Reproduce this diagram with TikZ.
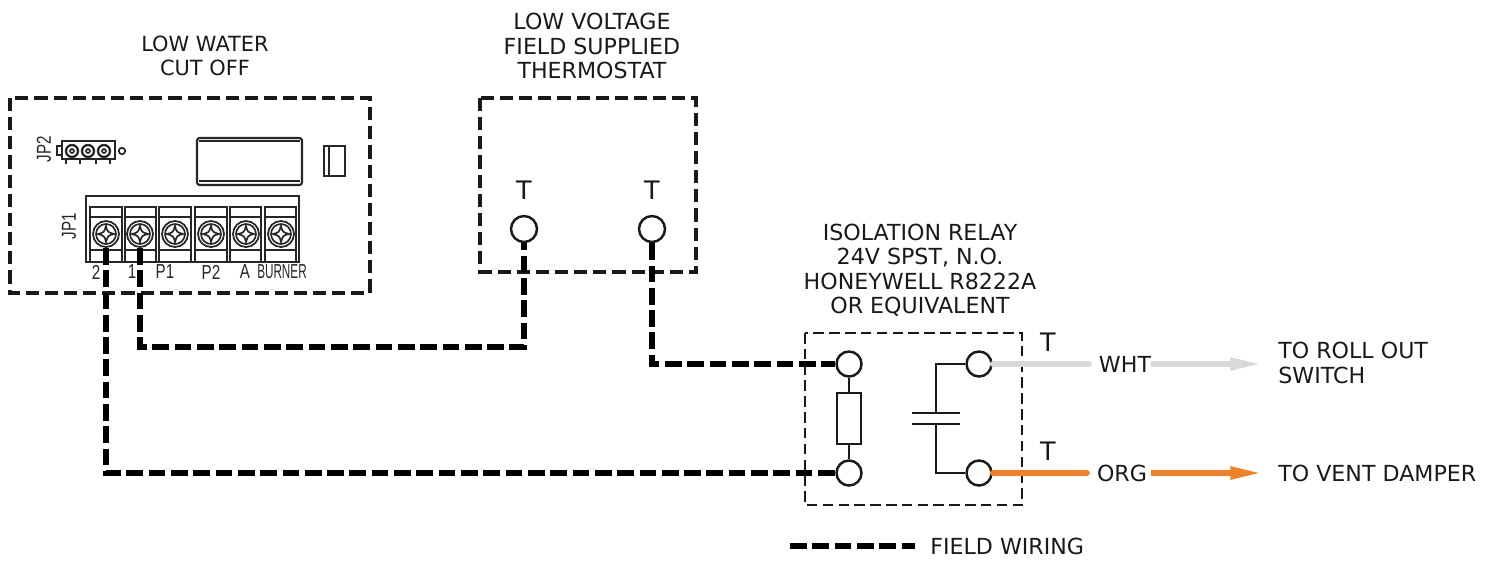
\documentclass[tikz,border=0pt]{standalone}
\usepackage{fontspec}
\setmainfont{DejaVu Sans}
\newfontfamily\pinfont{Liberation Sans}
\usetikzlibrary{arrows.meta}
\definecolor{wireorange}{RGB}{238,130,38}
\definecolor{wiregray}{RGB}{217,217,217}
\tikzset{
    boxline/.style={draw=black!90, line width=1.9pt, dash pattern=on 7.5pt off 3.4pt},
    fieldwire/.style={draw=black, line width=3pt, dash pattern=on 9.5pt off 3.2pt},
    term/.style={circle, draw=black!90, fill=white, line width=1.4pt, minimum size=0.52cm, inner sep=0pt},
    screw/.style={circle, draw=black!85, fill=white, line width=1pt, minimum size=0.52cm, inner sep=0pt},
    lbl/.style={font=\fontsize{12.6}{13.9}\selectfont, text=black!90, inner sep=0pt, align=center},
    tlbl/.style={font=\fontsize{14.5}{16}\selectfont, text=black!90, inner sep=0pt},
    pin/.style={font=\pinfont\fontsize{11.5}{12}\selectfont, text=black!85, inner sep=0pt},
    part/.style={draw=black!85, line width=0.95pt},
    relayline/.style={draw=black!90, line width=1.4pt},
    whtwire/.style={draw=wiregray, line width=3.2pt},
    orgwire/.style={draw=wireorange, line width=3.2pt},
}
\begin{document}
\begin{tikzpicture}[x=0.02cm, y=-0.02cm]
    \useasboundingbox (0,0) rectangle (1491,586);

    % dashed enclosures
    \draw[boxline] (10,98) rectangle (370,293);
    \draw[boxline] (480,98) rectangle (696,272);
    \draw[boxline, line width=1.5pt, dash pattern=on 6pt off 3pt] (805,333) rectangle (1022,505);

    % titles
    \node[lbl, font=\fontsize{11.9}{13.9}\selectfont] (lwcotitle) at (205,56) {LOW WATER\\CUT OFF};
    \node[lbl] (stattitle) at (592,46) {LOW VOLTAGE\\FIELD SUPPLIED\\THERMOSTAT};
    \node[lbl] (relaytitle) at (920,270) {ISOLATION RELAY\\24V SPST, N.O.\\HONEYWELL R8222A\\OR EQUIVALENT};

    % display and switch
    \draw[part, rounded corners=1.5pt, line width=1.2pt] (197,138) rectangle (302,185);
    \draw[part] (199,141) -- (300,141);
    \draw[part] (199,181) -- (300,181);
    \draw[part] (324,146) rectangle (345,176);
    \draw[part] (329,146) -- (329,176);

    % JP2 header
    \draw[part, line width=1.3pt] (62,141) rectangle (115,159);
    \draw[part] (57,146) rectangle (62,155);
    \node[circle, part, minimum size=0.13cm, inner sep=0pt] (jp2tab) at (122,151) {};
    \foreach \x in {72,88,104} {
        \node[circle, part, line width=1.3pt, minimum size=0.24cm, inner sep=0pt] (jp2o\x) at (\x,151) {};
        \node[circle, part, minimum size=0.08cm, inner sep=0pt] (jp2i\x) at (\x,151) {};
    }
    \foreach \x in {66,80,96,110}
        \draw[part, line width=1.3pt] (\x,159) -- (\x,164);
    \node[pin, rotate=90] (jp2) at (44,149) {\scalebox{.75}[1]{JP2}};

    % JP1 terminal block
    \node[pin, rotate=90] (jp1) at (69,226) {\scalebox{.75}[1]{JP1}};
    \draw[part, line width=1.2pt] (86,196) rectangle (299,262);
    \foreach \i/\l/\r/\c in {1/90/122/106, 2/125/156/140, 3/159/191/175, 4/195/227/211, 5/230/261/246, 6/265/296/281} {
        \draw[part] (\l,262) -- (\l,207) -- (\r,207) -- (\r,262);
        \draw[part] (\l,217) -- (\r,217);
        \draw[part] (\l,250) -- (\r,250);
        \node[screw] (scr\i) at (\c,234) {};
        \node[circle, part, minimum size=0.4cm, inner sep=0pt] (scri\i) at (\c,234) {};
        \begin{scope}[shift={(\c,234)}]
            \draw[part] (-8,0) .. controls (-2,-1.5) .. (0,-8) .. controls (1.5,-2) .. (8,0)
                .. controls (2,1.5) .. (0,8) .. controls (-1.5,2) .. cycle;
        \end{scope}
    }
    \node[pin] (pintwo) at (96,272) {\scalebox{.75}[1]{2}};
    \node[pin] (pinone) at (132,272) {\scalebox{.75}[1]{1}};
    \node[pin] (pinpa) at (165,272) {\scalebox{.75}[1]{P1}};
    \node[pin] (pinpb) at (211,272) {\scalebox{.75}[1]{P2}};
    \node[pin] (pina) at (245,272) {\scalebox{.75}[1]{A}};
    \node[pin] (pinburner) at (282,272) {\scalebox{.58}[1]{BURNER}};

    % thermostat
    \node[term] (statl) at (524,229) {};
    \node[term] (statr) at (652,229) {};
    \node[tlbl] (tl) at (524,190) {T};
    \node[tlbl] (tr) at (652,190) {T};

    % relay
    \node[term, minimum size=0.5cm] (coila) at (849,364) {};
    \node[term, minimum size=0.5cm] (coilb) at (849,473) {};
    \node[term, minimum size=0.5cm] (conta) at (979,364) {};
    \node[term, minimum size=0.5cm] (contb) at (979,473) {};
    \node[rectangle, relayline, minimum width=0.48cm, minimum height=1.02cm, inner sep=0pt] (coil) at (849,418.5) {};
    \coordinate (capa) at (936,413);
    \coordinate (capb) at (936,424);
    \draw[relayline] (coila) -- (coil);
    \draw[relayline] (coil) -- (coilb);
    \draw[relayline] (conta) -| (capa);
    \draw[relayline] (contb) -| (capb);
    \draw[relayline] (912,413) -- (960,413);
    \draw[relayline] (912,424) -- (960,424);
    \node[tlbl] (tta) at (1048,342) {T};
    \node[tlbl] (ttb) at (1048,451) {T};

    % field wiring
    \coordinate (cornera) at (524,347);
    \coordinate (cornerb) at (652,364);
    \draw[fieldwire] (scr2.south) |- (cornera) -- (statl.south);
    \draw[fieldwire] (statr.south) -- (cornerb) -- (coila.west);
    \draw[fieldwire] (scr1.south) |- (coilb.west);

    % output wires
    \node[lbl] (wht) at (1125,364) {WHT};
    \node[lbl] (org) at (1122,473) {ORG};
    \coordinate (whtend) at (1262,364);
    \coordinate (orgend) at (1262,473);
    \draw[whtwire, line cap=round, shorten >=5.5pt] (conta.east) -- (wht.west);
    \draw[orgwire, line cap=round, shorten >=5.5pt] (contb.east) -- (org.west);
    \draw[whtwire, -{Triangle[length=18pt,width=6.8pt]}] (wht.east) -- (whtend);
    \draw[orgwire, shorten <=2pt, -{Triangle[length=18pt,width=6.8pt]}] (org.east) -- (orgend);
    \node[lbl, align=left, anchor=west] (rollout) at (1278,363) {TO ROLL OUT\\SWITCH};
    \node[lbl, anchor=west] (damper) at (1278,473) {TO VENT DAMPER};

    % legend
    \coordinate (legenda) at (790,546);
    \node[lbl, anchor=west] (legend) at (930,546) {FIELD WIRING};
    \draw[fieldwire] (legenda) -- ([xshift=-8.5pt]legend.west);
\end{tikzpicture}
\end{document}
